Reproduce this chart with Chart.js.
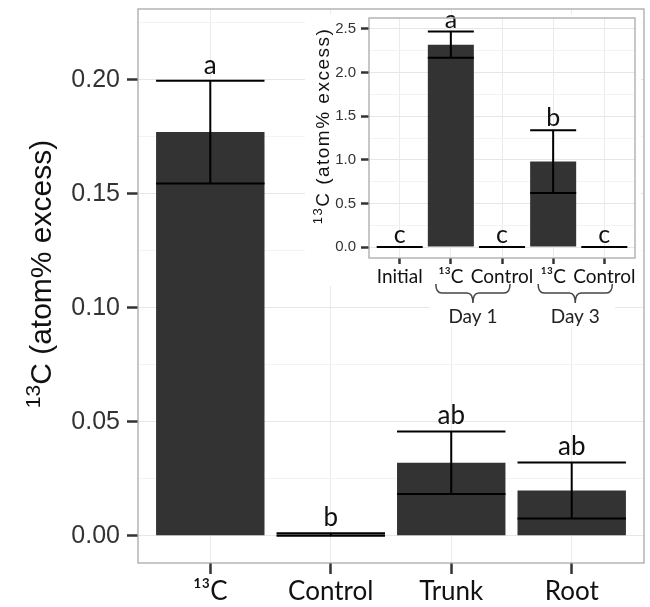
<!DOCTYPE html>
<html>
<head>
<meta charset="utf-8">
<script src="https://cdn.jsdelivr.net/npm/chart.js@4.4.1/dist/chart.umd.min.js"></script>
<style>
  body { margin: 0; background: #fff; }
  #wrap { position: relative; width: 650px; height: 607px; }
  #mainChart { position: absolute; left: 0; top: 0; }
  #insetChart { position: absolute; left: 305px; top: 14px; }
</style>
</head>
<body>
<div id="wrap">
  <canvas id="mainChart" width="650" height="607"></canvas>
  <canvas id="insetChart" width="336" height="313"></canvas>
</div>
<script>
// main panel
const mainCategories = ['¹³C', 'Control', 'Trunk', 'Root'];
const mainMeans = [0.177, 0.00045, 0.032, 0.0198];
const mainSE = [0.0225, 0.00055, 0.0137, 0.0123];
const mainLetters = ['a', 'b', 'ab', 'ab'];
const mainYTicks = [0, 0.05, 0.10, 0.15, 0.20];
const mainYMinor = [0.025, 0.075, 0.125, 0.175, 0.225];

// inset panel
const insetCategories = ['Initial', '¹³C', 'Control', '¹³C', 'Control'];
const insetMeans = [0, 2.32, 0, 0.98, 0];
const insetSE = [0, 0.15, 0, 0.36, 0];
const insetLetters = ['c', 'a', 'c', 'b', 'c'];
const insetYTicks = [0, 0.5, 1.0, 1.5, 2.0, 2.5];
const insetYMinor = [0.25, 0.75, 1.25, 1.75, 2.25];
const insetDays = ['Day 1', 'Day 3'];
const insetDayGroups = [[1, 2], [3, 4]];

// y title, superscript part + rest
const yTitleSup = '13';
const yTitleMain = 'C (atom% excess)';

const BAR = '#333333';

// error bars + significance letters
function errorPlugin(means, se, letters, font, gap) {
  return {
    id: 'errorBars',
    afterDatasetsDraw(chart) {
      const ctx = chart.ctx;
      const x = chart.scales.x, y = chart.scales.y;
      const bars = chart.getDatasetMeta(0).data;
      ctx.save();
      ctx.strokeStyle = '#000';
      ctx.lineWidth = 2;
      means.forEach((m, i) => {
        const cx = x.getPixelForValue(i);
        const half = bars[i].width / 2;
        const top = y.getPixelForValue(m + se[i]);
        const bot = y.getPixelForValue(m - se[i]);
        ctx.beginPath();
        ctx.moveTo(cx - half, top); ctx.lineTo(cx + half, top);
        ctx.moveTo(cx - half, bot); ctx.lineTo(cx + half, bot);
        ctx.moveTo(cx, top); ctx.lineTo(cx, bot);
        ctx.stroke();
      });
      ctx.fillStyle = '#111';
      ctx.font = font;
      ctx.textAlign = 'center';
      ctx.textBaseline = 'alphabetic';
      letters.forEach((t, i) => {
        ctx.fillText(t, x.getPixelForValue(i), y.getPixelForValue(means[i] + se[i]) - gap);
      });
      ctx.restore();
    }
  };
}

// rotated y title with a real superscript
function titlePlugin(baseX, centerY, size, spacing) {
  return {
    id: 'yTitle',
    afterDraw(chart) {
      const ctx = chart.ctx;
      const supFont = Math.round(size * 0.7) + 'px "Liberation Sans"';
      const mainFont = size + 'px "Liberation Sans"';
      ctx.save();
      ctx.fillStyle = '#111';
      ctx.translate(baseX, centerY);
      ctx.rotate(-Math.PI / 2);
      ctx.letterSpacing = spacing + 'px';
      ctx.textAlign = 'left';
      ctx.textBaseline = 'alphabetic';
      ctx.font = supFont;
      const w1 = ctx.measureText(yTitleSup).width;
      ctx.font = mainFont;
      const w2 = ctx.measureText(yTitleMain).width;
      const x0 = -(w1 + w2) / 2;
      ctx.font = supFont;
      ctx.fillText(yTitleSup, x0, -size * 0.38);
      ctx.font = mainFont;
      ctx.fillText(yTitleMain, x0 + w1, 0);
      ctx.restore();
    }
  };
}

const frame = {
  id: 'frame',
  afterDraw(chart) {
    const a = chart.chartArea, ctx = chart.ctx;
    ctx.save();
    ctx.strokeStyle = '#a9a9a9';
    ctx.lineWidth = 1.3;
    ctx.strokeRect(a.left, a.top, a.right - a.left, a.bottom - a.top);
    ctx.restore();
  }
};

function yScale(min, max, major, minor, fmt, width, tickFont, tickLen, pad) {
  const isMajor = v => major.includes(v);
  return {
    type: 'linear', min: min, max: max, bounds: 'data',
    afterBuildTicks: s => { s.ticks = major.concat(minor).sort((a, b) => a - b).map(v => ({ value: v })); },
    afterFit: s => { s.width = width; s.paddingTop = 0; s.paddingBottom = 0; },
    ticks: { autoSkip: false, padding: pad, color: '#333', font: tickFont,
      callback: v => isMajor(v) ? v.toFixed(fmt) : '' },
    grid: {
      color: c => isMajor(c.tick.value) ? '#e6e6e6' : '#f3f3f3',
      lineWidth: 1,
      tickColor: c => isMajor(c.tick.value) ? '#333' : 'rgba(0,0,0,0)',
      tickLength: tickLen, tickWidth: 2.5
    },
    border: { display: false }
  };
}

function xScale(cats, height, tickFont, tickLen, pad) {
  return {
    type: 'linear', min: -0.6, max: cats.length - 0.4, bounds: 'data', offset: false,
    afterBuildTicks: s => { s.ticks = cats.map((c, i) => ({ value: i })); },
    afterFit: s => { s.height = height; s.paddingLeft = 0; s.paddingRight = 0; },
    ticks: { autoSkip: false, maxRotation: 0, padding: pad, color: '#111', font: tickFont,
      callback: v => cats[v] },
    grid: { offset: false, color: '#ebebeb', tickColor: '#333', tickLength: tickLen, tickWidth: 2.5 },
    border: { display: false }
  };
}

new Chart(document.getElementById('mainChart'), {
  type: 'bar',
  data: {
    datasets: [{
      data: mainMeans.map((m, i) => ({ x: i, y: m })),
      backgroundColor: BAR,
      barPercentage: 0.9,
      categoryPercentage: 1.0
    }]
  },
  options: {
    responsive: false,
    animation: false,
    layout: { padding: { left: 0, right: 6, top: 9, bottom: 0 } },
    plugins: { legend: { display: false }, tooltip: { enabled: false } },
    scales: {
      x: xScale(mainCategories, 44, { family: 'Lato', size: 26 }, 11, 2),
      y: yScale(-0.012, 0.231, mainYTicks, mainYMinor, 2, 138,
        { family: 'Liberation Sans', size: 25 }, 11, 7)
    }
  },
  plugins: [frame, errorPlugin(mainMeans, mainSE, mainLetters, '26px Lato', 7), titlePlugin(51, 274, 30, 0)]
});

const insetBg = {
  id: 'insetBg',
  beforeDraw(chart) {
    const ctx = chart.ctx;
    ctx.save();
    ctx.fillStyle = '#fff';
    ctx.fillRect(0, 0, 336, 272);
    ctx.fillRect(110, 272, 226, 20);
    ctx.fillRect(125, 292, 185, 21);
    ctx.restore();
  }
};

const braces = {
  id: 'braces',
  afterDraw(chart) {
    const ctx = chart.ctx, x = chart.scales.x;
    ctx.save();
    ctx.strokeStyle = '#444';
    ctx.lineWidth = 1.5;
    ctx.fillStyle = '#222';
    ctx.font = '19px Lato';
    ctx.textAlign = 'center';
    ctx.textBaseline = 'middle';
    insetDayGroups.forEach((g, k) => {
      const x0 = x.getPixelForValue(g[0]) - 15;
      const x1 = x.getPixelForValue(g[1]) + 8;
      const c = (x0 + x1) / 2, r = 6;
      const y0 = 270, y1 = 279, y2 = 289;
      ctx.beginPath();
      ctx.moveTo(x0, y0);
      ctx.quadraticCurveTo(x0, y1, x0 + r, y1);
      ctx.lineTo(c - r, y1);
      ctx.quadraticCurveTo(c, y1, c, y2);
      ctx.quadraticCurveTo(c, y1, c + r, y1);
      ctx.lineTo(x1 - r, y1);
      ctx.quadraticCurveTo(x1, y1, x1, y0);
      ctx.stroke();
      ctx.fillText(insetDays[k], c, 303);
    });
    ctx.restore();
  }
};

new Chart(document.getElementById('insetChart'), {
  type: 'bar',
  data: {
    datasets: [{
      data: insetMeans.map((m, i) => ({ x: i, y: m })),
      backgroundColor: BAR,
      barPercentage: 0.9,
      categoryPercentage: 1.0
    }]
  },
  options: {
    responsive: false,
    animation: false,
    layout: { padding: { left: 0, right: 6, top: 4, bottom: 0 } },
    plugins: { legend: { display: false }, tooltip: { enabled: false } },
    scales: {
      x: xScale(insetCategories, 69, { family: 'Lato', size: 19 }, 6, 1),
      y: yScale(-0.126, 2.626, insetYTicks, insetYMinor, 1, 64,
        { family: 'Liberation Sans', size: 15 }, 8, 5)
    }
  },
  plugins: [insetBg, frame, braces, errorPlugin(insetMeans, insetSE, insetLetters, '25px Lato', 4), titlePlugin(24, 112, 19, 1.5)]
});
</script>
</body>
</html>
